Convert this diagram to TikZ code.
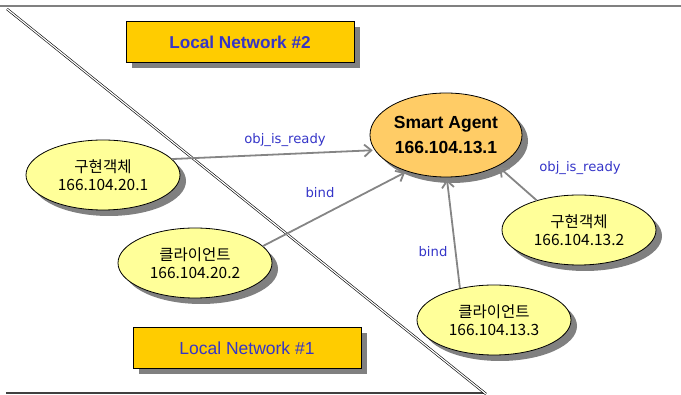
\documentclass[tikz,border=0pt]{standalone}
\usepackage{fontspec}
\setmainfont{Liberation Sans}
\newfontfamily\krfont{Noto Sans CJK KR}
\newfontfamily\labelfont{DejaVu Sans}
\usepackage{xcolor}
\usepackage{tikz}
\usetikzlibrary{arrows.meta, shapes.geometric, shadows}

\definecolor{netgold}{HTML}{FFCC00}
\definecolor{netblue}{HTML}{3535C8}
\definecolor{agentorange}{HTML}{FFCC66}
\definecolor{hostyellow}{HTML}{FFFF99}
\definecolor{shadowgray}{HTML}{808080}
\definecolor{arrowgray}{HTML}{858585}

\begin{document}
\begin{tikzpicture}[x=1pt, y=-1pt,
		castshadow/.style={drop shadow={shadow xshift=6pt, shadow yshift=-6pt, fill=shadowgray, opacity=1}},
		netbox/.style={draw, line width=0.8pt, fill=netgold, minimum width=228pt, minimum height=41pt, text=netblue, castshadow},
		host/.style={ellipse, draw, line width=0.8pt, fill=hostyellow, minimum width=154pt, minimum height=70pt, inner sep=0pt, align=center, castshadow, font=\krfont\fontsize{15.5}{17.5}\selectfont},
		callarrow/.style={draw=arrowgray, line width=1.8pt, -{Straight Barb[length=7pt, width=12pt]}, shorten >=2pt},
		msglabel/.style={text=netblue, font=\labelfont\fontsize{13.2}{15}\selectfont},
		wall/.style={draw=black, line width=0.6pt, double=white, double distance=1.2pt}
	]
		\useasboundingbox (0,0) rectangle (681,395);

		% Frame
		\draw[shadowgray, line width=2pt] (0,6) -- (681,6);
		\draw[wall] (6,7) -- (6,394);
		\draw[black!75, line width=1.5pt] (6,393) -- (486,393);
		\draw[wall] (7,9) -- (486,394);

		% Network names
		\node[netbox, font=\bfseries\fontsize{17.2}{19}\selectfont] (net2) at (240,42) {Local Network \#2};
		\node[netbox, font=\fontsize{17.5}{19}\selectfont] (net1) at (247,348) {Local Network \#1};

		% Smart agent
		\node[host, fill=agentorange, minimum width=152pt, minimum height=84pt, font=\bfseries\fontsize{17.5}{25}\selectfont] (agent) at (446,135) {Smart Agent\\166.104.13.1};

		% Hosts
		\node[host] (impl1) at (103,175) {구현객체\\166.104.20.1};
		\node[host] (client1) at (195,263) {클라이언트\\166.104.20.2};
		\node[host] (impl2) at (579,230) {구현객체\\166.104.13.2};
		\node[host] (client2) at (494,320) {클라이언트\\166.104.13.3};

		% Calls
		\draw[callarrow] (impl1.13) -- (agent.192);
		\draw[callarrow] (client1.14) -- (agent.223);
		\draw[callarrow] (client2.137) -- (agent.271);
		\draw[callarrow] (impl2.145) -- (agent.329);

		% Labels
		\node[msglabel] (ready1) at (285,140) {obj\_is\_ready};
		\node[msglabel] (bind1) at (320,193) {bind};
		\node[msglabel] (bind2) at (433,252) {bind};
		\node[msglabel] (ready2) at (580,168) {obj\_is\_ready};
	\end{tikzpicture}
\end{document}
